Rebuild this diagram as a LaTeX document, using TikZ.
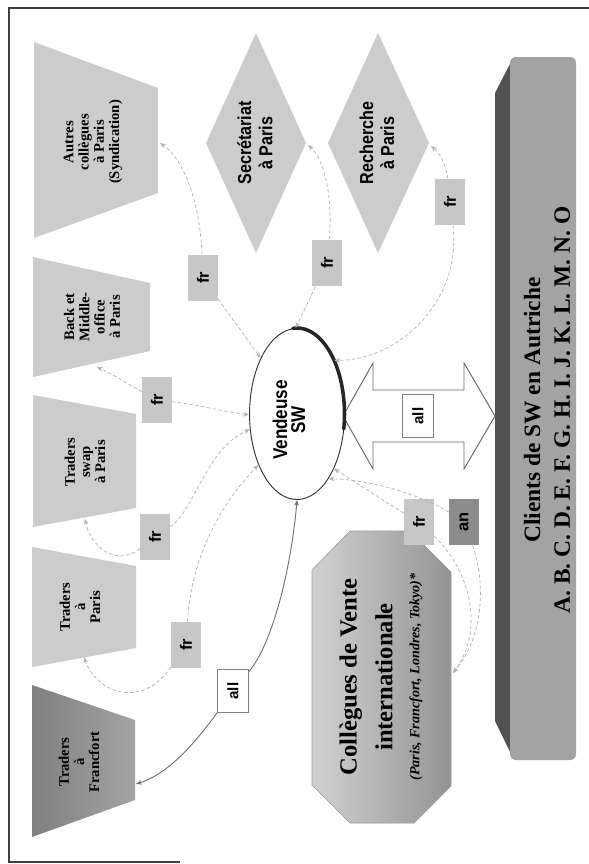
\documentclass[tikz,border=0pt]{standalone}
\usepackage{fontspec}
\setmainfont{Liberation Serif}
\newfontfamily\sansf{Liberation Sans}
\newfontfamily\sansn[FakeStretch=0.86]{Liberation Sans}
\usetikzlibrary{arrows.meta,shapes.geometric}
\begin{document}
\begin{tikzpicture}[x=0.03cm,y=-0.03cm,
  lbl/.style={rotate=90, align=center, inner sep=0pt, font=\bfseries\fontsize{12.5}{13}\selectfont},
  dlbl/.style={rotate=90, align=center, inner sep=0pt, font=\sansn\bfseries\fontsize{16}{18}\selectfont},
  tag/.style={rotate=90, minimum width=40pt, minimum height=25.5pt, inner sep=0pt, fill=black!22, font=\sansf\bfseries\fontsize{14}{14}\selectfont},
  allbox/.style={rotate=90, minimum width=37pt, minimum height=26.5pt, inner sep=0pt, fill=white, draw=black!50, line width=0.7pt, font=\sansf\bfseries\fontsize{13}{13}\selectfont},
  conn/.style={draw=black!30, line width=0.6pt, dash pattern=on 3pt off 2pt},
  solidconn/.style={draw=black!55, line width=0.8pt},
  atip/.style={-{Stealth[length=5pt,width=4pt]}},
  shapefill/.style={fill=black!20}
]
\useasboundingbox (0,0) rectangle (589,864);
% frame
\draw[black!75, line width=0.9pt] (589,8) -- (9,8) -- (9,862) -- (180,862);

% bar of clients
\fill[black!68] (513,58) -- (495,93) -- (495,721) -- (513,758) -- cycle;
\fill[black!36, rounded corners=5pt] (510,57) rectangle (576,760);
\node[rotate=90, align=center, font=\bfseries\fontsize{20}{25.5}\selectfont] (clients) at (547,410)
  {Clients de SW en Autriche\\A. B. C. D. E. F. G. H. I. J. K. L. M. N. O};

% trapezoids
\fill[shapefill] (34,42) -- (158,88) -- (158,193) -- (34,238) -- cycle;
\fill[shapefill] (33,257) -- (150,283) -- (150,351) -- (33,377) -- cycle;
\fill[shapefill] (33,395) -- (136,414) -- (136,508) -- (33,527) -- cycle;
\fill[shapefill] (32,547) -- (136,566) -- (136,648) -- (32,667) -- cycle;
\shade[left color=black!50, right color=black!36] (32,685) -- (135,720) -- (135,800) -- (32,837) -- cycle;

% diamonds
\fill[shapefill] (256,33) -- (306,143) -- (256,253) -- (206,143) -- cycle;
\fill[shapefill] (378,33) -- (429,143) -- (378,253) -- (328,143) -- cycle;

% octagon
\shade[left color=black!18, right color=black!42] (350,531) -- (410,531) -- (451,572) -- (451,786) -- (414,823) -- (350,823) -- (312,785) -- (312,570) -- cycle;
\draw[black!40, line width=0.5pt] (350,531) -- (410,531) -- (451,572) -- (451,786) -- (414,823) -- (350,823) -- (312,785) -- (312,570) -- cycle;

% double block arrow
\draw[black!60, fill=white, line width=0.8pt] (343,416) -- (373,363) -- (373,390) -- (464,390) -- (464,363) -- (495,416) -- (464,469) -- (464,442) -- (373,442) -- (373,469) -- cycle;

% ellipse
\node[ellipse, draw=black!80, line width=0.8pt, fill=white, rotate=90, minimum width=146pt, minimum height=81pt, inner sep=0pt] (vend) at (297,414) {};
\draw[line width=3pt, black!85, line cap=round] plot[domain=-95:10, samples=60, smooth] ({297+47.5*cos(\x)},{414+86*sin(\x)});
\node[rotate=90, align=center, font=\sansn\bfseries\fontsize{17}{15.3}\selectfont] (vendlbl) at (289,420) {Vendeuse\\SW};

% shape labels
\node[lbl] (autres) at (93,142) {Autres\\collègues\\à Paris\\(Syndication)};
\node[lbl] (back) at (92,317) {Back et\\Middle-\\office\\à Paris};
\node[lbl] (swap) at (85,462) {Traders\\swap\\à Paris};
\node[lbl] (tparis) at (80,607) {Traders\\à\\Paris};
\node[lbl] (tfranc) at (79,762) {Traders\\à\\Francfort};
\node[dlbl] (secr) at (255,143) {Secrétariat\\à Paris};
\node[dlbl] (rech) at (377,143) {Recherche\\à Paris};
\node[rotate=90, align=center, font=\bfseries\fontsize{21}{30.6}\selectfont] (coll) at (366,677) {Collègues de Vente\\internationale};
\node[rotate=90, font=\bfseries\itshape\fontsize{12}{13}\selectfont] (villes) at (416,677) {(Paris, Francfort, Londres, Tokyo)*};

% anchor points on shapes
\coordinate (autresR) at (160,143);
\coordinate (backB) at (97,367);
\coordinate (swapB) at (85,519);
\coordinate (tpB) at (84,657);
\coordinate (francR) at (136,784);
\coordinate (secR) at (308,145);
\coordinate (rechR) at (431,146);
\coordinate (octR) at (453,673);

% tags
\node[tag] (f1) at (203,278) {fr};
\node[tag] (f2) at (157,400) {fr};
\node[tag] (f3) at (155,537) {fr};
\node[tag] (f4) at (186,645) {fr};
\node[tag] (f5) at (327,263) {fr};
\node[tag] (f6) at (450,202) {fr};
\node[tag] (f7) at (419,522) {fr};
\node[tag, fill=black!45] (f8) at (464,522) {an};
\node[allbox] (a1) at (233,691) {all};
\node[allbox] (a2) at (418,416) {all};

% dashed connectors
\draw[conn, atip] (f1) -- (vend.33);
\draw[conn, atip] (f1) .. controls (200,205) and (185,160) .. (autresR);
\draw[conn, atip] (f2) .. controls (200,405) and (225,412) .. (vend.91);
\draw[conn, atip] (f2) .. controls (130,385) and (110,373) .. (backB);
\draw[conn, atip] (f3) .. controls (195,510) and (205,450) .. (vend.108);
\draw[conn, atip] (f3) .. controls (115,568) and (90,545) .. (swapB);
\draw[conn, atip] (f4) .. controls (190,580) and (205,520) .. (vend.143);
\draw[conn, atip] (f4) .. controls (140,712) and (95,690) .. (tpB);
\draw[conn, atip] (f5) -- (vend.1);
\draw[conn, atip] (f5) .. controls (333,200) and (325,160) .. (secR);
\draw[conn, atip] (f6) .. controls (462,300) and (400,360) .. (vend.-35);
\draw[conn, atip] (f6) .. controls (447,170) and (442,155) .. (rechR);
\draw[conn, atip] (f7) .. controls (390,505) and (360,485) .. (vend.214);
\draw[conn, atip] (f8) .. controls (430,500) and (380,480) .. (vend.206);
\draw[conn, atip] (f7) .. controls (470,570) and (485,630) .. (octR);
\draw[conn, atip] (f8) .. controls (485,580) and (485,635) .. (octR);

% solid connector "all"
\draw[solidconn, atip] (a1) .. controls (275,640) and (292,560) .. (vend.west);
\draw[solidconn, atip] (a1) .. controls (190,750) and (165,775) .. (francR);
\end{tikzpicture}
\end{document}
